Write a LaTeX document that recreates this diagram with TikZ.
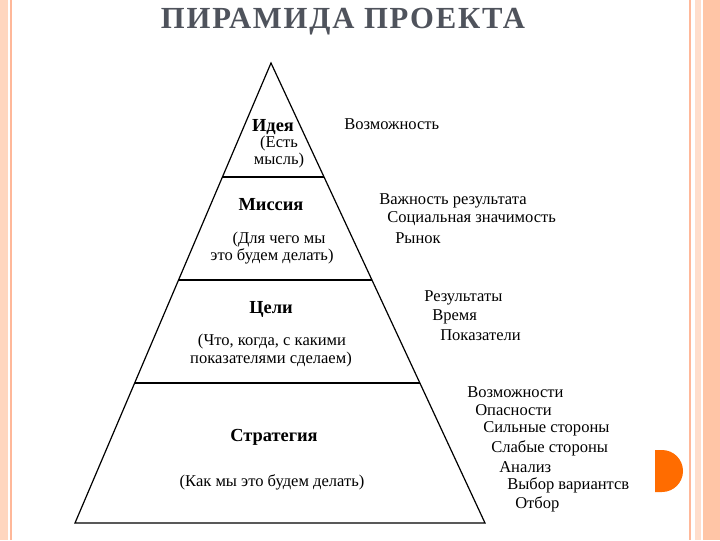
\documentclass[tikz,border=0pt]{standalone}
\usepackage{fontspec}
\setmainfont{Liberation Serif}
\newfontfamily\titlefont[LetterSpace=6]{Liberation Serif}
\definecolor{titlegray}{HTML}{4F535C}
\begin{document}
\begin{tikzpicture}[x=0.75pt,y=-0.75pt,
  lab/.style={font=\fontsize{12.4pt}{14pt}\selectfont, inner sep=0pt},
  hd/.style={lab, font=\fontsize{13.8pt}{15pt}\selectfont\bfseries},
  rl/.style={lab, anchor=west}]
\useasboundingbox (0,0) rectangle (720,540);
\fill[white] (0,0) rectangle (720,540);
% borders
\fill[red!30!orange!25] (0,0) rectangle (8,540);
\draw[red!40!orange!40, line width=0.8pt] (11,0) -- (11,540);
\draw[red!40!orange!40, line width=0.8pt] (690,0) -- (690,540);
\fill[red!30!orange!20] (695,0) rectangle (701,540);
\fill[red!30!orange!35] (703,0) rectangle (720,540);
\fill[orange!85!red] (655,450) -- (662,450) arc[start angle=-90,end angle=90,radius=21] -- (655,492) -- cycle;
% title
\node[font=\titlefont\bfseries\fontsize{23pt}{25pt}\selectfont, text=titlegray, inner sep=0pt] (title) at (343,22) {ПИРАМИДА ПРОЕКТА};
% pyramid
\coordinate (A) at (271,63);
\coordinate (BL) at (75,523);
\coordinate (BR) at (485,523);
\draw[line width=0.9pt] (A) -- (BL) -- (BR) -- cycle;
\coordinate (l1) at (222.5,177); \coordinate (r1) at (324,177);
\coordinate (l2) at (178.6,280); \coordinate (r2) at (372,280);
\coordinate (l3) at (134.7,383); \coordinate (r3) at (419.9,383);
\draw[line width=0.9pt] (l1) -- (r1) (l2) -- (r2) (l3) -- (r3);
% inside
\node[hd] (h1) at (273,127) {Идея};
\node[lab] (t1a) at (279,144) {(Есть};
\node[lab] (t1b) at (279,161) {мысль)};
\node[hd] (h2) at (271,205) {Миссия};
\node[lab] (t2a) at (279,240) {(Для чего мы};
\node[lab] (t2b) at (272,256) {это будем делать)};
\node[hd] (h3) at (271,309) {Цели};
\node[lab] (t3a) at (272,342) {(Что, когда, с какими};
\node[lab] (t3b) at (271,360) {показателями сделаем)};
\node[hd] (h4) at (274,437) {Стратегия};
\node[lab] (t4) at (272,482) {(Как мы это будем делать)};
% right
\node[rl] (r11) at (344,124) {Возможность};
\node[rl] (r21) at (379,201) {Важность результата};
\node[rl] (r22) at (387,219) {Социальная значимость};
\node[rl] (r23) at (395,238) {Рынок};
\node[rl] (r31) at (424,298) {Результаты};
\node[rl] (r32) at (432,317) {Время};
\node[rl] (r33) at (440,335) {Показатели};
\node[rl] (r41) at (467,392) {Возможности};
\node[rl] (r42) at (475,410) {Опасности};
\node[rl] (r43) at (483,429) {Сильные стороны};
\node[rl] (r44) at (491,448) {Слабые стороны};
\node[rl] (r45) at (499,467) {Анализ};
\node[rl] (r46) at (507,485) {Выбор вариантсв};
\node[rl] (r47) at (515,504) {Отбор};
\end{tikzpicture}
\end{document}
